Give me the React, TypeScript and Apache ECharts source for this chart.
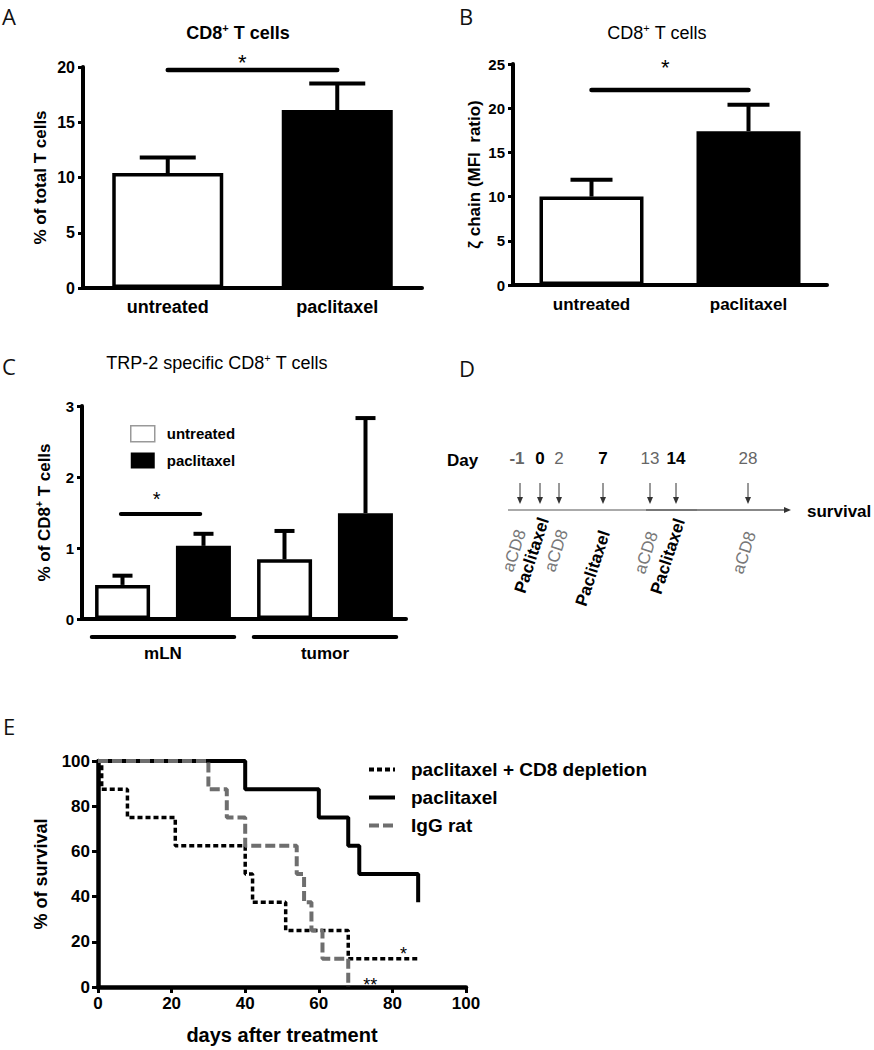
import React, { useEffect, useRef } from 'react';
import * as echarts from 'echarts';

const FONT = '"Liberation Sans", Arial, Helvetica, sans-serif';
const LETTER_FONT = '"Open Sans", "Noto Sans", sans-serif';

// ---------------- data ----------------
// Panel A
const aCategories = ['untreated', 'paclitaxel'];
const aMeans = [10.4, 16.1];
const aUpper = [11.8, 18.5];
// significance: [from, to, lineY, starX, starY]
const aSig = [0, 1, 19.73, 0.44, 20.45];

// Panel B
const bCategories = ['untreated', 'paclitaxel'];
const bMeans = [10.0, 17.4];
const bUpper = [11.9, 20.4];
const bSig = [0, 1, 22.06, 0.47, 24.55];

// Panel C
const cGroups = ['mLN', 'tumor'];
const cUntreated = [0.48, 0.84];
const cUntreatedUpper = [0.61, 1.24];
const cPaclitaxel = [1.03, 1.49];
const cPaclitaxelUpper = [1.2, 2.83];
const cSig = [-0.26, 0.23, 1.48, -0.04, 1.69];

// Panel D (schedule)
const dDays = ['-1', '0', '2', '7', '13', '14', '28'];
const dEvents = ['aCD8', 'Paclitaxel', 'aCD8', 'Paclitaxel', 'aCD8', 'Paclitaxel', 'aCD8'];

// Panel E (Kaplan-Meier, [day, % survival])
const ePaclitaxelCD8 = [[0, 100], [1, 87.5], [8, 75], [21, 62.5], [40, 50], [42, 37.5], [51, 25], [68, 12.5], [87, 12.5]];
const ePaclitaxel = [[0, 100], [40, 87.5], [60, 75], [68, 62.5], [71, 50], [87, 37.5]];
const eIgG = [[0, 100], [30, 87.5], [35, 75], [40, 62.5], [54, 50], [56, 37.5], [58, 25], [61, 12.5], [68, 0]];
const eSeriesNames = ['paclitaxel + CD8 depletion', 'paclitaxel', 'IgG rat'];
const eStarPos = [[83, 14.5], [74, 0.9]];
const eStarText = ['*', '**'];

// ---------------- layout (pixels, not data) ----------------
const dArrowX = [520, 540, 559, 603, 650, 676, 748];
const dLabelDY = [530, 518, 530, 531, 532, 519, 532];
const dLabelDX = [1, 4, 4, 2, 3, 4, 3];

// ---------------- helpers ----------------
function catX(api: any, v: number) {
  const ci = Math.round(v);
  const band = api.size([1, 0])[0];
  return api.coord([ci, 0])[0] + (v - ci) * band;
}

function errRender(capHalf: number, lw: number) {
  return (_params: any, api: any) => {
    const xv = api.value(0);
    const x = catX(api, xv);
    const y0 = api.coord([Math.round(xv), api.value(1)])[1];
    const y1 = api.coord([Math.round(xv), api.value(2)])[1];
    return {
      type: 'group',
      children: [
        { type: 'line', shape: { x1: x, y1: y0, x2: x, y2: y1 }, style: { stroke: '#000', lineWidth: lw } },
        { type: 'line', shape: { x1: x - capHalf, y1: y1, x2: x + capHalf, y2: y1 }, style: { stroke: '#000', lineWidth: lw } },
      ],
    };
  };
}

function sigRender(starSize: number, lw: number) {
  return (_params: any, api: any) => {
    const x0 = catX(api, api.value(0));
    const x1 = catX(api, api.value(1));
    const y = api.coord([0, api.value(2)])[1];
    const sx = catX(api, api.value(3));
    const sy = api.coord([0, api.value(4)])[1];
    return {
      type: 'group',
      children: [
        { type: 'line', shape: { x1: x0, y1: y, x2: x1, y2: y }, style: { stroke: '#000', lineWidth: lw, lineCap: 'round' } },
        {
          type: 'text', x: sx, y: sy,
          style: { text: '*', fontSize: starSize, fontFamily: FONT, fill: '#000', textAlign: 'center', textVerticalAlign: 'middle', align: 'center', verticalAlign: 'middle' },
        },
      ],
    };
  };
}

function valueAxis(gridIndex: number, max: number, interval: number, labelSize: number, name: string, nameGap: number, nameSize: number, rich?: any) {
  return {
    gridIndex, type: 'value', min: 0, max, interval,
    axisLine: { show: true, lineStyle: { color: '#000', width: 4 } },
    axisTick: { show: true, inside: false, length: 5, lineStyle: { color: '#000', width: 3 } },
    axisLabel: { color: '#000', fontSize: labelSize, fontWeight: 'bold', fontFamily: FONT, margin: 8 },
    splitLine: { show: false },
    name, nameLocation: 'middle', nameGap, nameRotate: 90,
    nameTextStyle: { color: '#000', fontSize: nameSize, fontWeight: 'bold', fontFamily: FONT, rich },
  };
}

function catAxis(gridIndex: number, data: string[], labelSize: number, margin: number) {
  return {
    gridIndex, type: 'category', data,
    axisLine: { show: true, lineStyle: { color: '#000', width: 4 } },
    axisTick: { show: false },
    axisLabel: { color: '#000', fontSize: labelSize, fontWeight: 'bold', fontFamily: FONT, margin },
  };
}

function txt(x: number, y: number, text: string, size: number, opts: any = {}) {
  return {
    type: 'text', x, y, rotation: opts.rotation || 0,
    style: {
      text, fontSize: size, fontFamily: opts.family || FONT, fontWeight: opts.weight || 'normal',
      fill: opts.color || '#000',
      textAlign: opts.align || 'center', textVerticalAlign: opts.valign || 'middle',
      align: opts.align || 'center', verticalAlign: opts.valign || 'middle',
      rich: opts.rich,
    },
  };
}

const supRich = (size: number, weight: string) => ({
  a: { fontSize: size, fontWeight: weight, fontFamily: FONT, lineHeight: size + 4, fill: '#000', color: '#000' },
  s: { fontSize: Math.round(size * 0.6), fontWeight: weight, fontFamily: FONT, lineHeight: size + 4, verticalAlign: 'top', fill: '#000', color: '#000' },
});

const fillColors = ['#ffffff', '#000000'];

function buildTop(): any {
  const graphic: any[] = [
    txt(2, 16, 'A', 22, { family: LETTER_FONT, align: 'left', color: '#111' }),
    txt(459, 16, 'B', 22, { family: LETTER_FONT, align: 'left', color: '#111' }),
    txt(2, 366, 'C', 22, { family: LETTER_FONT, align: 'left', color: '#111' }),
    txt(459, 368, 'D', 22, { family: LETTER_FONT, align: 'left', color: '#111' }),
    txt(238, 33, '{a|CD8}{s|+}{a| T cells}', 18, { rich: supRich(18, 'bold'), weight: 'bold' }),
    txt(657, 33, '{a|CD8}{s|+}{a| T cells}', 18, { rich: supRich(18, 'normal') }),
    txt(217, 363, '{a|TRP-2 specific CD8}{s|+}{a| T cells}', 18, { rich: supRich(18, 'normal') }),
    // Panel D
    txt(447, 460, 'Day', 17, { weight: 'bold', align: 'left' }),
    txt(807, 511, 'survival', 17, { weight: 'bold', align: 'left' }),
    { type: 'line', shape: { x1: 508, y1: 510, x2: 646, y2: 510 }, style: { stroke: '#aaa', lineWidth: 2 } },
    { type: 'line', shape: { x1: 646, y1: 510, x2: 697, y2: 510 }, style: { stroke: '#777', lineWidth: 2 } },
    { type: 'line', shape: { x1: 697, y1: 510, x2: 786, y2: 510 }, style: { stroke: '#888', lineWidth: 2 } },
    { type: 'polygon', shape: { points: [[784, 507], [791, 510], [784, 513]] }, style: { fill: '#333' } },
  ];
  dDays.forEach((d, i) => {
    const isDrug = dEvents[i] === 'Paclitaxel';
    const x = dArrowX[i];
    graphic.push(txt(x + (i === 0 ? -3 : 0), 458, d, 17, {
      weight: isDrug || i === 0 ? 'bold' : 'normal', color: isDrug ? '#000' : '#666',
    }));
    graphic.push({ type: 'line', shape: { x1: x, y1: 483, x2: x, y2: 499 }, style: { stroke: '#333', lineWidth: 1 } });
    graphic.push({ type: 'polygon', shape: { points: [[x - 3, 497], [x + 3, 497], [x, 504]] }, style: { fill: '#333' } });
    graphic.push(txt(x + dLabelDX[i], dLabelDY[i], dEvents[i], 17, {
      rotation: 1.2566, align: 'right', valign: 'middle',
      weight: isDrug ? 'bold' : 'normal', color: isDrug ? '#000' : '#777',
    }));
  });

  return {
    animation: false,
    textStyle: { fontFamily: FONT },
    grid: [
      { left: 83, top: 67, width: 339, height: 221 },
      { left: 513, top: 64, width: 314, height: 221 },
      { left: 82, top: 406, width: 324, height: 213 },
    ],
    xAxis: [
      catAxis(0, aCategories, 18, 10),
      catAxis(1, bCategories, 17, 11),
      catAxis(2, cGroups, 17, 26),
    ],
    yAxis: [
      valueAxis(0, 20, 5, 16, '% of total T cells', 34, 17),
      valueAxis(1, 25, 5, 15, 'ζ chain (MFI  ratio)', 30, 17),
      valueAxis(2, 3, 1, 15, '{a|% of CD8}{s|+}{a| T cells}', 27, 17, supRich(17, 'bold')),
    ],
    legend: {
      left: 125, top: 420, orient: 'vertical', icon: 'rect', itemWidth: 24, itemHeight: 16, itemGap: 10,
      selectedMode: false,
      textStyle: { fontSize: 15, fontWeight: 'bold', fontFamily: FONT, color: '#000', padding: [0, 0, 0, 7] },
      data: [
        { name: 'untreated', itemStyle: { color: '#fff', borderColor: '#999', borderWidth: 1.5 } },
        { name: 'paclitaxel', itemStyle: { color: '#000', borderColor: '#000', borderWidth: 0 } },
      ],
    },
    graphic,
    series: [
      {
        name: 'A', type: 'bar', xAxisIndex: 0, yAxisIndex: 0, barWidth: 111,
        data: aMeans.map((v, i) => ({ value: v, itemStyle: { color: fillColors[i] } })),
        itemStyle: { borderColor: '#000', borderWidth: 3.5 },
      },
      { name: 'A err', type: 'custom', xAxisIndex: 0, yAxisIndex: 0, renderItem: errRender(28, 4), data: aMeans.map((v, i) => [i, v, aUpper[i]]), z: 3 },
      { name: 'A sig', type: 'custom', xAxisIndex: 0, yAxisIndex: 0, renderItem: sigRender(22, 4.5), data: [aSig], z: 3 },
      {
        name: 'B', type: 'bar', xAxisIndex: 1, yAxisIndex: 1, barWidth: 104,
        data: bMeans.map((v, i) => ({ value: v, itemStyle: { color: fillColors[i] } })),
        itemStyle: { borderColor: '#000', borderWidth: 3.5 },
      },
      { name: 'B err', type: 'custom', xAxisIndex: 1, yAxisIndex: 1, renderItem: errRender(21, 4), data: bMeans.map((v, i) => [i, v, bUpper[i]]), z: 3 },
      { name: 'B sig', type: 'custom', xAxisIndex: 1, yAxisIndex: 1, renderItem: sigRender(22, 4.5), data: [bSig], z: 3 },
      {
        name: 'untreated', type: 'bar', xAxisIndex: 2, yAxisIndex: 2, barWidth: 55, barGap: '47%',
        data: cUntreated, itemStyle: { color: '#fff', borderColor: '#000', borderWidth: 3.5 },
      },
      {
        name: 'paclitaxel', type: 'bar', xAxisIndex: 2, yAxisIndex: 2, barWidth: 55, barGap: '47%',
        data: cPaclitaxel, itemStyle: { color: '#000', borderColor: '#000', borderWidth: 3.5 },
      },
      {
        name: 'C err', type: 'custom', xAxisIndex: 2, yAxisIndex: 2, renderItem: errRender(10, 4), z: 3,
        data: [
          ...cUntreated.map((v, i) => [i - 0.25, v, cUntreatedUpper[i]]),
          ...cPaclitaxel.map((v, i) => [i + 0.25, v, cPaclitaxelUpper[i]]),
        ],
      },
      { name: 'C sig', type: 'custom', xAxisIndex: 2, yAxisIndex: 2, renderItem: sigRender(20, 4), data: [cSig], z: 3 },
      {
        name: 'C groups', type: 'custom', xAxisIndex: 2, yAxisIndex: 2, z: 3,
        renderItem: (_p: any, api: any) => {
          const c = api.coord([api.value(0), 0]);
          const band = api.size([1, 0])[0];
          return {
            type: 'line', shape: { x1: c[0] - 0.44 * band, y1: c[1] + 18, x2: c[0] + 0.44 * band, y2: c[1] + 18 },
            style: { stroke: '#000', lineWidth: 4, lineCap: 'round' },
          };
        },
        data: cGroups.map((_g, i) => [i]),
      },
    ],
  };
}

function buildBottom(): any {
  const styles = [
    { color: '#000', width: 3.5, type: [5, 3] },
    { color: '#000', width: 4, type: 'solid' },
    { color: '#6e6e6e', width: 4, type: [10, 4] },
  ];
  const datasets = [ePaclitaxelCD8, ePaclitaxel, eIgG];
  const order = [1, 0, 2];
  return {
    animation: false,
    textStyle: { fontFamily: FONT },
    grid: { left: 98, top: 81, width: 368, height: 228 },
    xAxis: {
      type: 'value', min: 0, max: 100, interval: 20,
      axisLine: { show: true, lineStyle: { color: '#000', width: 4.5 } },
      axisTick: { show: true, inside: false, length: 6, lineStyle: { color: '#000', width: 3 } },
      axisLabel: { color: '#000', fontSize: 17, fontWeight: 'bold', fontFamily: FONT, margin: 8 },
      splitLine: { show: false },
      name: 'days after treatment', nameLocation: 'middle', nameGap: 38,
      nameTextStyle: { color: '#000', fontSize: 20, fontWeight: 'bold', fontFamily: FONT },
    },
    yAxis: {
      type: 'value', min: 0, max: 100, interval: 20,
      axisLine: { show: true, lineStyle: { color: '#000', width: 4.5 } },
      axisTick: { show: true, inside: false, length: 6, lineStyle: { color: '#000', width: 3 } },
      axisLabel: { color: '#000', fontSize: 17, fontWeight: 'bold', fontFamily: FONT, margin: 8 },
      splitLine: { show: false },
      name: '% of survival', nameLocation: 'middle', nameGap: 48, nameRotate: 90,
      nameTextStyle: { color: '#000', fontSize: 18, fontWeight: 'bold', fontFamily: FONT },
    },
    legend: {
      left: 362, top: 75, orient: 'vertical', itemWidth: 26, itemHeight: 12, itemGap: 9,
      selectedMode: false,
      itemStyle: { opacity: 0, borderWidth: 0 },
      lineStyle: { width: 4 },
      textStyle: { fontSize: 19, fontWeight: 'bold', fontFamily: FONT, color: '#000', padding: [0, 0, 0, 11] },
      data: eSeriesNames,
    },
    graphic: [txt(3, 46, 'E', 22, { family: LETTER_FONT, align: 'left', color: '#111' })],
    series: [
      ...order.map((k) => ({
        name: eSeriesNames[k], type: 'line', step: 'end', symbol: 'none', clip: false,
        data: datasets[k], lineStyle: styles[k], itemStyle: { color: styles[k].color }, z: 2 + k,
      })),
      {
        name: 'stars', type: 'custom', z: 6,
        renderItem: (p: any, api: any) => {
          const c = api.coord([api.value(0), api.value(1)]);
          return {
            type: 'text', x: c[0], y: c[1],
            style: { text: eStarText[p.dataIndex], fontSize: 18, fontFamily: FONT, fill: '#000', textAlign: 'center', textVerticalAlign: 'middle', align: 'center', verticalAlign: 'middle' },
          };
        },
        data: eStarPos,
      },
    ],
  };
}

export default function App() {
  const topRef = useRef<HTMLDivElement>(null);
  const botRef = useRef<HTMLDivElement>(null);
  useEffect(() => {
    const top = echarts.init(topRef.current as HTMLDivElement, null, { renderer: 'svg' });
    const bot = echarts.init(botRef.current as HTMLDivElement, null, { renderer: 'svg' });
    top.setOption(buildTop());
    bot.setOption(buildBottom());
    return () => {
      top.dispose();
      bot.dispose();
    };
  }, []);
  return (
    <div style={{ position: 'absolute', left: 0, top: 0, width: 874, height: 1050, background: '#fff' }}>
      <div ref={topRef} style={{ position: 'absolute', left: 0, top: 0, width: 874, height: 680 }} />
      <div ref={botRef} style={{ position: 'absolute', left: 0, top: 680, width: 874, height: 370 }} />
    </div>
  );
}
